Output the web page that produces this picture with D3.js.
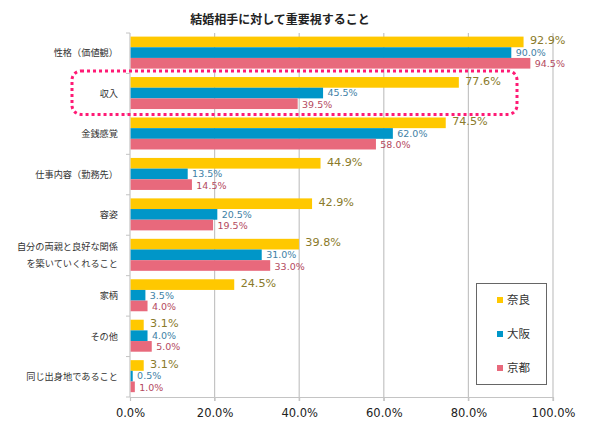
<!DOCTYPE html>
<html><head><meta charset="utf-8">
<script src="https://cdn.jsdelivr.net/npm/d3@7"></script>
<style>
body{margin:0;background:#fff;}
text{font-family:"DejaVu Sans","Noto Sans CJK JP",sans-serif;}
</style></head>
<body><svg id="c" width="600" height="430"></svg>
<script>
const title = "結婚相手に対して重要視すること";
const categories = ["性格（価値観）","収入","金銭感覚","仕事内容（勤務先）","容姿","自分の両親と良好な関係\nを築いていくれること","家柄","その他","同じ出身地であること"];
const seriesNames = ["奈良","大阪","京都"];
const nara  = [92.9,77.6,74.5,44.9,42.9,39.8,24.5,3.1,3.1];
const osaka = [90.0,45.5,62.0,13.5,20.5,31.0,3.5,4.0,0.5];
const kyoto = [94.5,39.5,58.0,14.5,19.5,33.0,4.0,5.0,1.0];
const xTicks = [0,20,40,60,80,100];
const highlighted = "収入";

const colors = ["#FFC800","#0096C8","#E8697C"];
const labelColors = ["#8A7A2A","#3E7FA6","#B4495E"];
const labelSizes = [11.2,9.5,9.5];
const labelShift = [-1.6,0,0.7];
const seriesVals = [nara, osaka, kyoto];

const svg = d3.select("#c");
const L=130, R=553, T=33, B=397;
const x = d3.scaleLinear().domain([0,100]).range([L,R]);
const y = d3.scaleBand().domain(categories).range([T,B]);
const ys = d3.scaleBand().domain(seriesNames).range([3.6, 35.6]);

svg.append("text").attr("x",280).attr("y",24).attr("text-anchor","middle")
  .attr("font-size",12).attr("font-weight","bold").attr("fill","#222").text(title);

// gridlines
svg.append("g").selectAll("line").data(xTicks.filter(d=>d>0)).join("line")
  .attr("x1",d=>x(d)).attr("x2",d=>x(d)).attr("y1",T).attr("y2",B+4)
  .attr("stroke","#c4c4c4").attr("stroke-width",1.2);

// bottom axis
const xa = svg.append("g").attr("transform",`translate(0,${B})`)
  .call(d3.axisBottom(x).tickValues(xTicks).tickFormat(d=>d.toFixed(1)+"%").tickSize(4).tickPadding(8));
xa.select(".domain").attr("stroke","#c4c4c4").attr("stroke-width",1.2);
xa.selectAll(".tick line").attr("stroke","#c4c4c4");
xa.selectAll("text").attr("font-size",11.5).attr("fill","#222").attr("font-family",null);

// left axis line with boundary ticks
const bounds = categories.map(c=>y(c)).concat([B]);
svg.append("line").attr("x1",L).attr("x2",L).attr("y1",T).attr("y2",B).attr("stroke","#c4c4c4").attr("stroke-width",1.2);
svg.append("g").selectAll("line").data(bounds).join("line")
  .attr("x1",L-4).attr("x2",L).attr("y1",d=>d).attr("y2",d=>d).attr("stroke","#c4c4c4");

// bars
seriesVals.forEach((vals,si)=>{
  const g = svg.append("g");
  g.selectAll("rect").data(vals).join("rect")
    .attr("x",L+0.6).attr("y",(d,i)=>y(categories[i])+ys(seriesNames[si]))
    .attr("width",d=>x(d)-L).attr("height",ys.bandwidth())
    .attr("fill",colors[si]);
  g.selectAll("text").data(vals).join("text")
    .attr("x",d=>x(d)+(si===0?7:5))
    .attr("y",(d,i)=>y(categories[i])+ys(seriesNames[si])+ys.bandwidth()/2 + labelShift[si])
    .attr("dy","0.35em").attr("font-size",labelSizes[si]).attr("fill",labelColors[si])
    .text(d=>d.toFixed(1)+"%");
});

// category labels
const cl = svg.append("g");
categories.forEach(c=>{
  const lines = c.split("\n");
  const cy = y(c)+y.bandwidth()/2;
  lines.forEach((ln,k)=>{
    cl.append("text").attr("x",118).attr("y",cy+(k-(lines.length-1)/2)*17)
      .attr("dy","0.35em").attr("text-anchor","end").attr("font-size",9.2).attr("fill","#333").text(ln);
  });
});

// highlight box
const hy = y(highlighted);
svg.append("rect").attr("x",72).attr("y",hy-2.5).attr("width",445).attr("height",y.bandwidth()+3)
  .attr("rx",9).attr("fill","none").attr("stroke","#FF1A75").attr("stroke-width",3).attr("stroke-dasharray","3,3");

// legend
const lg = svg.append("g");
lg.append("rect").attr("x",476.5).attr("y",283.5).attr("width",70).attr("height",101)
  .attr("fill","#fff").attr("stroke","#666").attr("stroke-width",1);
seriesNames.forEach((s,i)=>{
  const cy = 300 + i*34;
  lg.append("rect").attr("x",497).attr("y",cy-3).attr("width",6).attr("height",6).attr("fill",colors[i]);
  lg.append("text").attr("x",507).attr("y",cy).attr("dy","0.35em").attr("font-size",11.5).attr("fill","#333").text(s);
});
</script></body></html>
